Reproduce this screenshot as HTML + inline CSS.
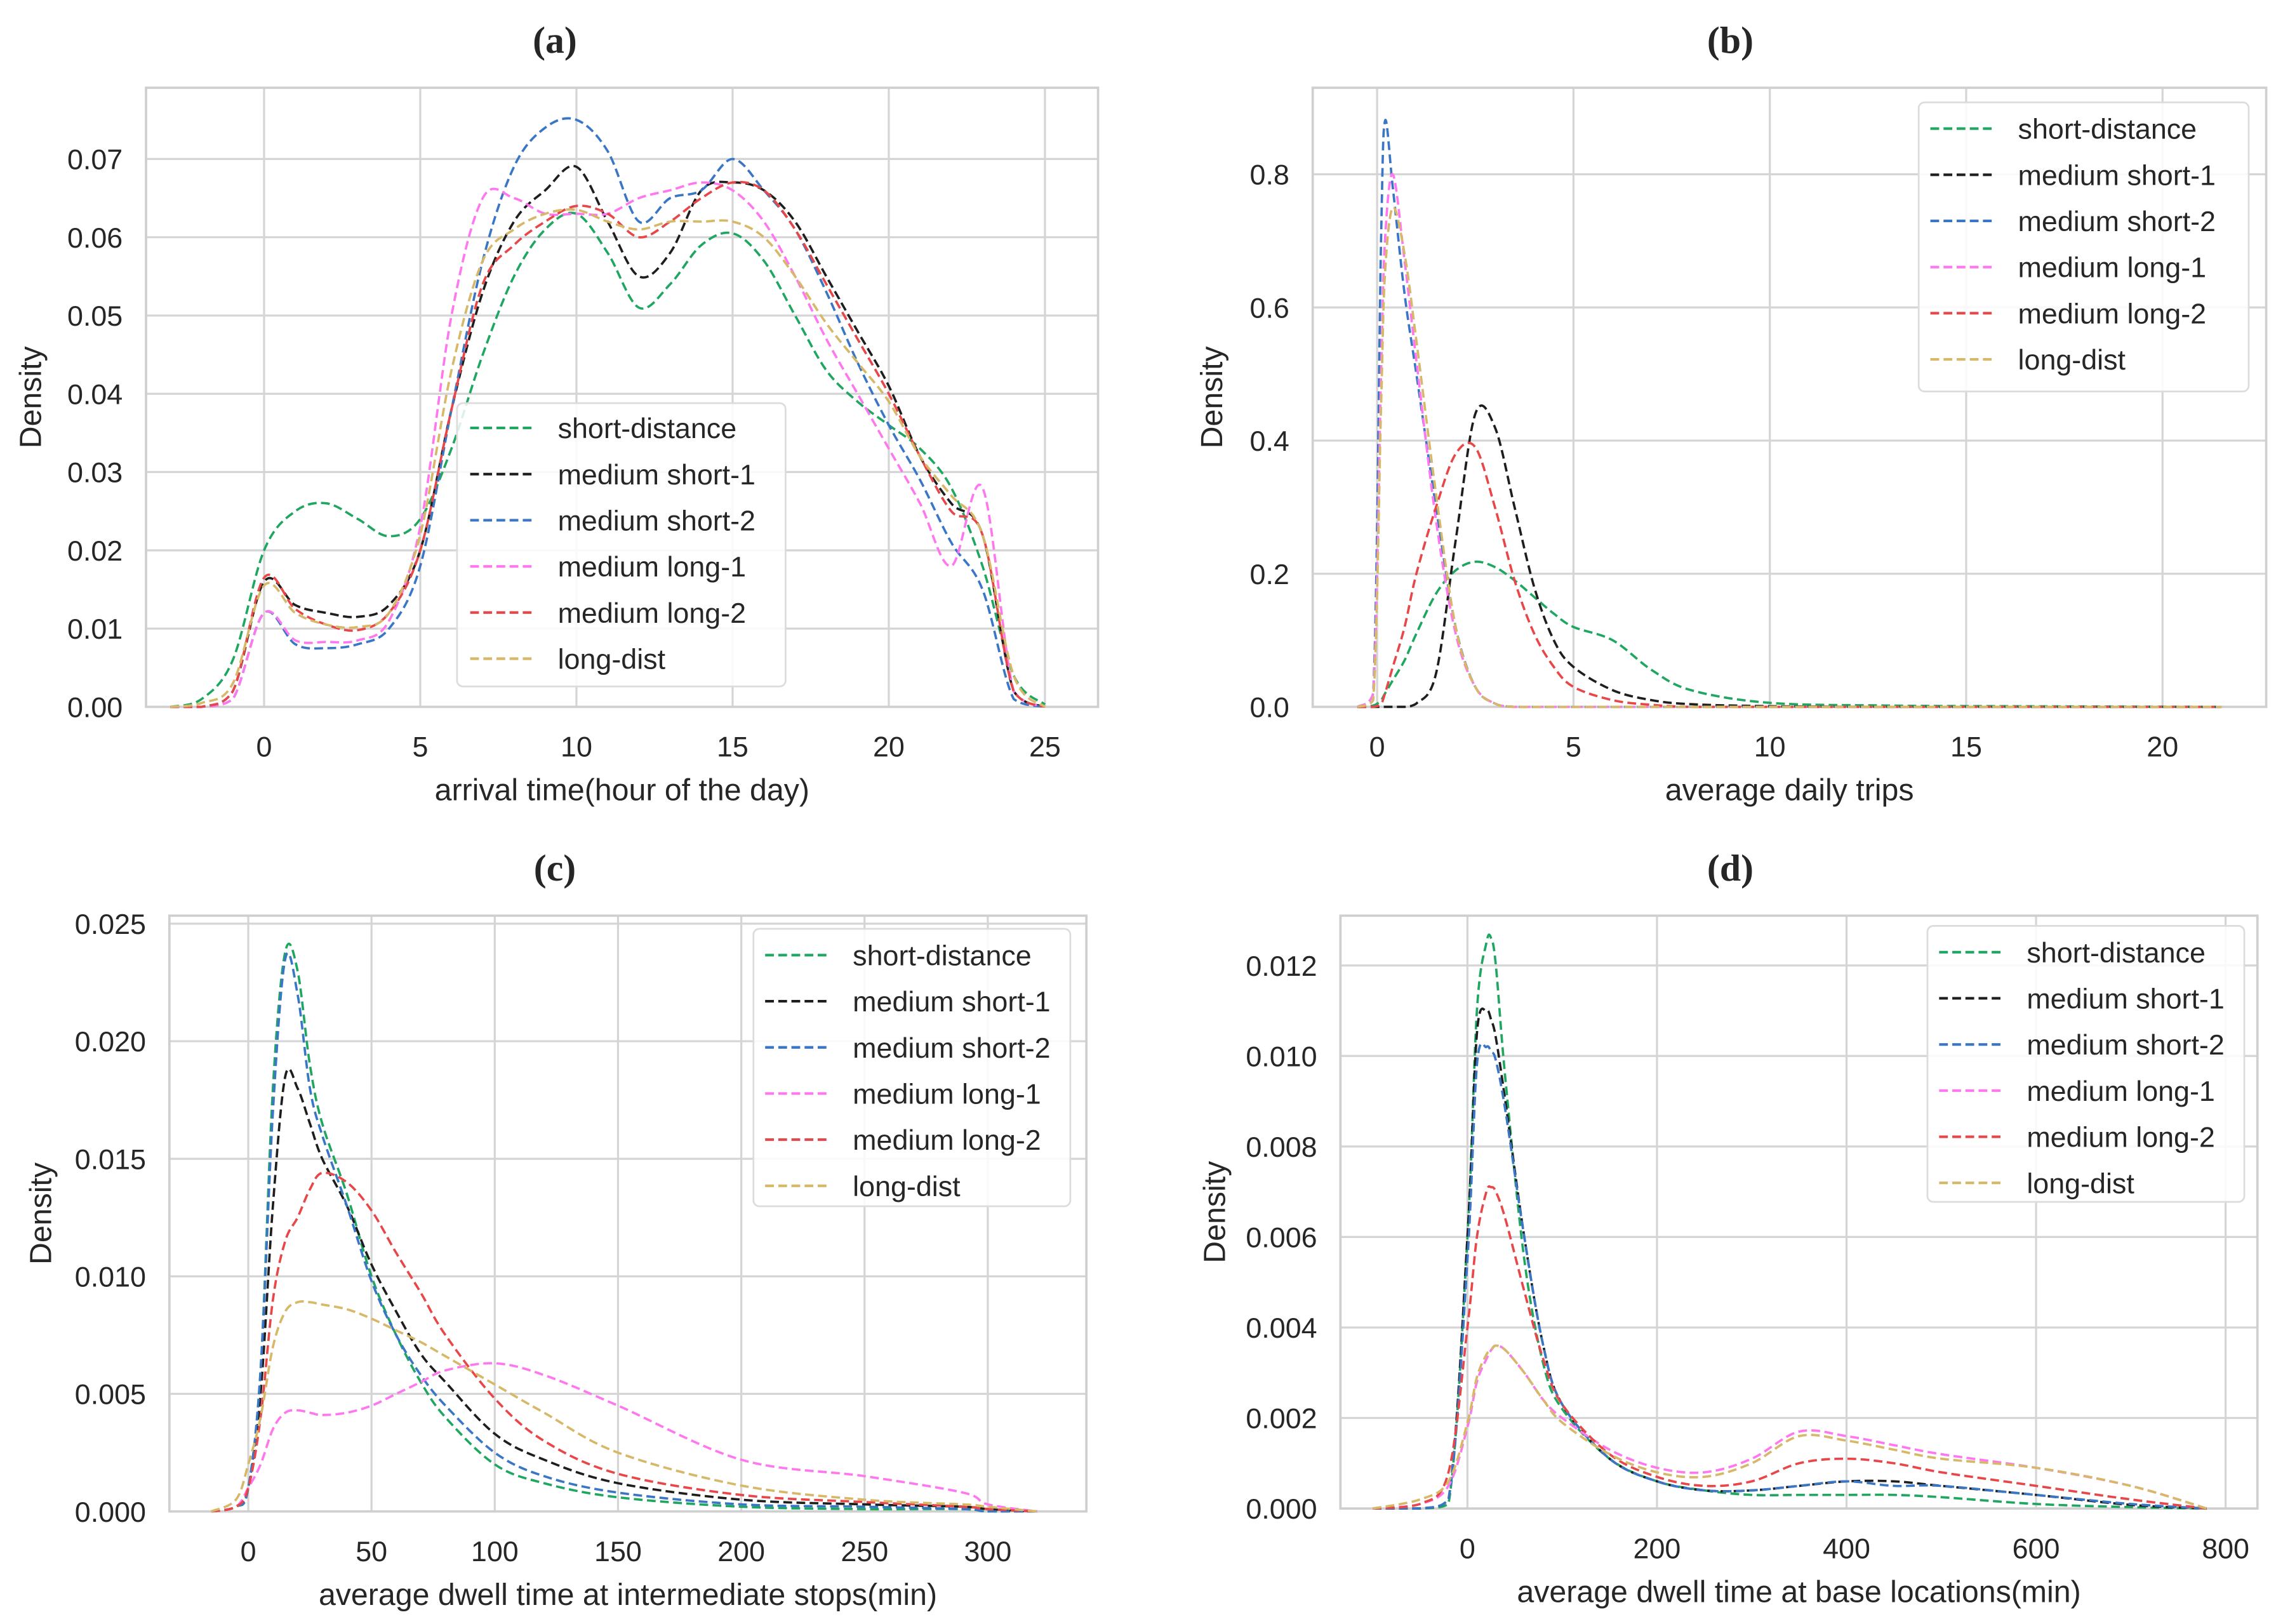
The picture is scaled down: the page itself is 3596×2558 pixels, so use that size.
<!DOCTYPE html>
<html><head><meta charset="utf-8"><style>
html,body{margin:0;padding:0;background:#fff;}
svg{display:block;}
text{font-family:"Liberation Sans",sans-serif;fill:#262626;}
.title{font-family:"Liberation Serif",serif;font-weight:bold;font-size:26px;}
</style></head><body>
<svg id="fig" width="3596" height="2558" viewBox="0 0 1563.5 1112" xmlns="http://www.w3.org/2000/svg"></svg>
<script>
const seriesNames=["short-distance","medium short-1","medium short-2","medium long-1","medium long-2","long-dist"];
const seriesColors=["#1fa660","#1e1e1e","#3a76c6","#ff77ee","#e8474a","#d6b868"];

const aX=[-3,-2,-1,0,1,2,3,4,5,6,7,8,9,10,11,12,13,14,15,16,17,18,19,20,21,22,23,24,25];
const aShort=[0,0.001,0.006,0.02,0.025,0.026,0.024,0.0218,0.024,0.033,0.045,0.055,0.061,0.063,0.058,0.051,0.054,0.059,0.0605,0.057,0.05,0.043,0.039,0.036,0.033,0.028,0.018,0.004,0.0003];
const aMS1=[0,0,0.002,0.016,0.013,0.012,0.0115,0.013,0.02,0.038,0.053,0.062,0.066,0.069,0.062,0.055,0.058,0.066,0.067,0.066,0.062,0.055,0.048,0.041,0.032,0.026,0.022,0.002,0];
const aMS2=[0,0,0.001,0.012,0.008,0.0075,0.008,0.01,0.018,0.038,0.057,0.069,0.074,0.075,0.071,0.062,0.065,0.066,0.07,0.066,0.061,0.053,0.044,0.036,0.029,0.021,0.015,0.001,0];
const aML1=[0,0,0.001,0.012,0.0085,0.0083,0.0085,0.011,0.023,0.05,0.065,0.065,0.063,0.063,0.063,0.065,0.066,0.067,0.066,0.062,0.055,0.047,0.04,0.033,0.026,0.018,0.028,0.002,0];
const aML2=[0,0,0.002,0.0165,0.0125,0.0105,0.0098,0.012,0.02,0.038,0.054,0.059,0.062,0.064,0.063,0.06,0.062,0.065,0.067,0.066,0.061,0.054,0.047,0.04,0.032,0.025,0.022,0.002,0];
const aLD=[0,0.0005,0.003,0.0155,0.012,0.0105,0.0102,0.012,0.022,0.043,0.057,0.061,0.063,0.0635,0.062,0.061,0.062,0.062,0.062,0.06,0.055,0.049,0.044,0.039,0.032,0.027,0.022,0.004,0];

const bX=[-0.5,-0.1,0.1,0.2,0.4,0.7,1,1.5,2,2.5,3,3.5,4,4.5,5,6,7,8,10,13,16,21.5];
const bShort=[0,0.002,0.01,0.02,0.04,0.07,0.11,0.17,0.205,0.218,0.21,0.19,0.165,0.14,0.12,0.1,0.055,0.025,0.006,0.002,0.001,0];
const bMS1=[0,0,0,0,0,0,0.005,0.05,0.25,0.44,0.42,0.3,0.18,0.1,0.06,0.025,0.01,0.004,0.001,0,0,0];
const bMS2=[0,0.02,0.7,0.88,0.78,0.62,0.5,0.3,0.12,0.03,0.005,0,0,0,0,0,0,0,0,0,0,0];
const bML1=[0,0.02,0.5,0.7,0.8,0.67,0.52,0.28,0.11,0.03,0.005,0,0,0,0,0,0,0,0,0,0,0];
const bML2=[0,0,0.005,0.02,0.06,0.12,0.2,0.3,0.38,0.39,0.3,0.19,0.11,0.06,0.03,0.01,0.003,0,0,0,0,0];
const bLD=[0,0.01,0.45,0.65,0.75,0.68,0.55,0.32,0.12,0.03,0.005,0,0,0,0,0,0,0,0,0,0,0];

const cX=[-15,-5,0,5,10,15,20,25,30,40,50,60,70,80,100,120,150,200,250,290,300,320];
const cShort=[0,0.0002,0.001,0.006,0.018,0.0238,0.023,0.019,0.0165,0.0135,0.01,0.0075,0.0055,0.004,0.002,0.0012,0.0006,0.0002,0.0001,0.0001,0,0];
const cMS1=[0,0.0002,0.001,0.005,0.013,0.0185,0.018,0.0165,0.015,0.013,0.0105,0.0085,0.0067,0.0055,0.0033,0.0022,0.0012,0.0005,0.0003,0.0002,0.0001,0];
const cMS2=[0,0.0002,0.001,0.006,0.017,0.0235,0.022,0.018,0.016,0.013,0.0098,0.0075,0.0058,0.0045,0.0025,0.0015,0.0008,0.0003,0.0002,0.0001,0,0];
const cML1=[0,0.0002,0.001,0.002,0.0035,0.0042,0.0043,0.0042,0.0041,0.0042,0.0045,0.005,0.0055,0.006,0.0063,0.0058,0.0045,0.0022,0.0015,0.0008,0.0003,0];
const cML2=[0,0.0002,0.001,0.004,0.009,0.0115,0.0125,0.0137,0.0144,0.014,0.0128,0.011,0.0093,0.0075,0.0048,0.003,0.0016,0.0007,0.0004,0.0002,0.0001,0];
const cLD=[0,0.0005,0.002,0.004,0.007,0.0085,0.0089,0.0089,0.0088,0.0086,0.0082,0.0077,0.0072,0.0066,0.0054,0.0042,0.0025,0.0011,0.0005,0.0003,0.0002,0];

const dX=[-100,-50,-20,0,10,20,25,30,40,60,80,100,150,200,250,300,350,400,450,500,600,700,780];
const dShort=[0,0,0.0001,0.006,0.011,0.0125,0.0126,0.012,0.0095,0.0055,0.0032,0.0022,0.0011,0.0006,0.0004,0.0003,0.0003,0.0003,0.0003,0.00025,0.0001,0.00003,0];
const dMS1=[0,0,0.0002,0.006,0.0105,0.011,0.0108,0.0104,0.009,0.006,0.0036,0.0023,0.0011,0.0006,0.0004,0.0004,0.0005,0.0006,0.0006,0.0005,0.0003,0.00008,0];
const dMS2=[0,0,0.0002,0.0055,0.0098,0.0102,0.0101,0.0099,0.0088,0.006,0.0036,0.0023,0.0011,0.0006,0.0004,0.0004,0.0005,0.0006,0.0005,0.0005,0.0003,0.0001,0];
const dML1=[0,0.0001,0.0005,0.0018,0.0028,0.0033,0.0035,0.0036,0.0035,0.003,0.0024,0.002,0.0013,0.0009,0.0008,0.0011,0.0017,0.0016,0.0014,0.0012,0.0009,0.0005,0];
const dML2=[0,0.0001,0.0008,0.004,0.006,0.007,0.0071,0.007,0.0064,0.0048,0.0033,0.0023,0.0012,0.0007,0.0005,0.0006,0.001,0.0011,0.001,0.0008,0.0005,0.0002,0];
const dLD=[0,0.0002,0.0006,0.0019,0.0029,0.0034,0.0035,0.0036,0.0035,0.003,0.0024,0.0019,0.0012,0.0008,0.0007,0.001,0.0016,0.0015,0.0013,0.0011,0.0009,0.0005,0];

const aXTicks=[0,5,10,15,20,25], aYTicks=[0,0.01,0.02,0.03,0.04,0.05,0.06,0.07];
const bXTicks=[0,5,10,15,20], bYTicks=[0,0.2,0.4,0.6,0.8];
const cXTicks=[0,50,100,150,200,250,300], cYTicks=[0,0.005,0.01,0.015,0.02,0.025];
const dXTicks=[0,200,400,600,800], dYTicks=[0,0.002,0.004,0.006,0.008,0.01,0.012];

const NS="http://www.w3.org/2000/svg";
const svg=document.getElementById('fig');
function mk(tag,attrs,parent){const e=document.createElementNS(NS,tag);for(const k in attrs)e.setAttribute(k,attrs[k]);(parent||svg).appendChild(e);return e;}
function smooth(pts,base){let d="M"+pts[0][0].toFixed(2)+","+pts[0][1].toFixed(2);
 for(let i=0;i<pts.length-1;i++){const p0=pts[Math.max(0,i-1)],p1=pts[i],p2=pts[i+1],p3=pts[Math.min(pts.length-1,i+2)];
 const c1=[p1[0]+(p2[0]-p0[0])/6,Math.min(base,p1[1]+(p2[1]-p0[1])/6)],c2=[p2[0]-(p3[0]-p1[0])/6,Math.min(base,p2[1]-(p3[1]-p1[1])/6)];
 d+=" C"+c1[0].toFixed(2)+","+c1[1].toFixed(2)+" "+c2[0].toFixed(2)+","+c2[1].toFixed(2)+" "+p2[0].toFixed(2)+","+p2[1].toFixed(2);}
 return d;}

function panel(p){
 const g=mk('g',{});
 
 
 const sx=v=>p.px0+(v-p.xmin)/(p.xmax-p.xmin)*(p.px1-p.px0);
 const sy=v=>p.py0-(v-p.ymin)/(p.ymax-p.ymin)*(p.py0-p.py1);
 const t=mk('text',{x:p.tx,y:p.py1-24,'text-anchor':'middle',class:'title'},g);t.textContent='('+p.id+')';
 
 p.xt.forEach(v=>{const l=mk('line',{x1:sx(v),x2:sx(v),y1:p.py1,y2:p.py0,stroke:'#d5d5d5','stroke-width':1.4},g);
  
  const tx=mk('text',{x:sx(v),y:p.py0+34,'text-anchor':'middle','font-size':19.5},g);tx.textContent=String(v);
  });
 p.yt.forEach(v=>{const l=mk('line',{x1:p.px0,x2:p.px1,y1:sy(v),y2:sy(v),stroke:'#d5d5d5','stroke-width':1.4},g);
  
  const tx=mk('text',{x:p.px0-16,y:sy(v)+7,'text-anchor':'end','font-size':19.5},g);tx.textContent=v.toFixed(p.dec);
  });
 const fr=mk('rect',{x:p.px0,y:p.py1,width:p.px1-p.px0,height:p.py0-p.py1,fill:'none',stroke:'#cfcfcf','stroke-width':1.6},g);
 
 const xl=mk('text',{x:(p.px0+p.px1)/2,y:p.py0+64,'text-anchor':'middle','font-size':21},g);xl.textContent=p.xlabel;
 
 const yc=(p.py0+p.py1)/2;
 const yl=mk('text',{x:p.ylx,y:yc,'text-anchor':'middle','font-size':21,transform:'rotate(-90 '+p.ylx+' '+yc+')'},g);yl.textContent='Density';
 
 p.series.forEach((ys,i)=>{const pts=p.xs.map((x,j)=>[sx(x),sy(ys[j])]);
  const path=mk('path',{d:smooth(pts,sy(0)),fill:'none',stroke:seriesColors[i],'stroke-width':1.6,'stroke-dasharray':'6,3'},g);
  
  });
 const L=p.leg;
 const lg=mk('g',{},g);
 mk('rect',{x:L.x,y:L.y,width:L.w,height:L.h,rx:4,fill:'rgba(255,255,255,0.85)',stroke:'#dcdcdc','stroke-width':1.2},lg);
 seriesNames.forEach((n,i)=>{const yy=L.r0+i*31.6;
  const e=mk('g',{},lg);
  mk('line',{x1:L.lx,x2:L.lx+43,y1:yy,y2:yy,stroke:seriesColors[i],'stroke-width':1.8,'stroke-dasharray':'6,3'},e);
  const tx=mk('text',{x:L.lx+60,y:yy+7,'font-size':19.5},e);tx.textContent=n;});
}
panel({id:'a',tx:380,px0:100,px1:752,py0:484,py1:60,xmin:-3.78,xmax:26.7,ymin:0,ymax:0.0791,xt:aXTicks,yt:aYTicks,dec:2,xlabel:'arrival time(hour of the day)',ylx:28,
 xs:aX,series:[aShort,aMS1,aMS2,aML1,aML2,aLD],leg:{x:313,y:276,w:225,h:194,lx:322,r0:293}});
panel({id:'b',tx:1185,px0:899,px1:1552,py0:484,py1:60,xmin:-1.64,xmax:22.64,ymin:0,ymax:0.93,xt:bXTicks,yt:bYTicks,dec:1,xlabel:'average daily trips',ylx:837,
 xs:bX,series:[bShort,bMS1,bMS2,bML1,bML2,bLD],leg:{x:1314,y:70,w:226,h:198,lx:1322,r0:88}});
panel({id:'c',tx:380,px0:116,px1:744,py0:1035,py1:627,xmin:-32,xmax:340,ymin:0,ymax:0.02534,xt:cXTicks,yt:cYTicks,dec:3,xlabel:'average dwell time at intermediate stops(min)',ylx:35,
 xs:cX,series:[cShort,cMS1,cMS2,cML1,cML2,cLD],leg:{x:516,y:636,w:217,h:190,lx:524,r0:654}});
panel({id:'d',tx:1185,px0:918,px1:1546,py0:1033,py1:627,xmin:-134,xmax:833.6,ymin:0,ymax:0.0131,xt:dXTicks,yt:dYTicks,dec:3,xlabel:'average dwell time at base locations(min)',ylx:839,
 xs:dX,series:[dShort,dMS1,dMS2,dML1,dML2,dLD],leg:{x:1320,y:634,w:217,h:189,lx:1328,r0:652}});
</script>
</body></html>
